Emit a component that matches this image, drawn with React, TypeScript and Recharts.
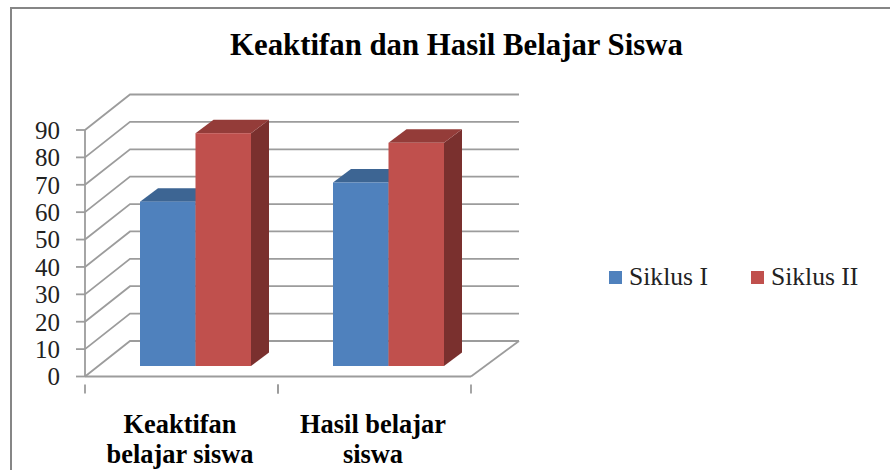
import React from 'react';
import { BarChart, Bar, XAxis, YAxis, CartesianGrid, Legend } from 'recharts';

const categories = ['Keaktifan\nbelajar siswa', 'Hasil belajar\nsiswa'];
const siklusI = [60, 67];
const siklusII = [85, 81.5];
const yTicks = [0, 10, 20, 30, 40, 50, 60, 70, 80, 90];

const chartData = categories.map((name, i) => ({
    name,
    siklusI: siklusI[i],
    siklusII: siklusII[i],
}));

const FONT = '"Liberation Serif", serif';
const GRID = '#9c9c9c';

// fake 3D: how far the back wall and the bar depth sit from the front plane
const WALL_DX = 45;
const WALL_DY = -35.5;
const BAR_SHIFT_X = 14;
const BAR_SHIFT_Y = -10.5;
const BAR_DX = 18;
const BAR_DY = -13.5;

function Bar3D({ x, y, width, height, fill, topFill, sideFill }: any) {
    const left = x + BAR_SHIFT_X;
    const right = left + width;
    const top = y + BAR_SHIFT_Y;
    const bottom = top + height;
    return (
        <g>
            <polygon
                points={`${right},${top} ${right + BAR_DX},${top + BAR_DY} ${right + BAR_DX},${bottom + BAR_DY} ${right},${bottom}`}
                fill={sideFill}
            />
            <polygon
                points={`${left},${top} ${left + BAR_DX},${top + BAR_DY} ${right + BAR_DX},${top + BAR_DY} ${right},${top}`}
                fill={topFill}
            />
            <rect x={left} y={top} width={width} height={height} fill={fill} />
        </g>
    );
}

function WallLine({ x1, y1, x2, index }: any) {
    const backY = y1 + WALL_DY;
    const path = `M${x1},${y1} L${x1 + WALL_DX},${backY} L${x2 + 48},${backY}`;
    return (
        <g>
            <path d={path} fill="none" stroke={GRID} strokeWidth={1.8} />
            {index === 0 ? (
                <line x1={x2} y1={y1} x2={x2 + 48} y2={backY} stroke={GRID} strokeWidth={1.8} />
            ) : null}
        </g>
    );
}

function CategoryTick({ x, y, payload, width, visibleTicksCount }: any) {
    const half = (width || 386) / (2 * (visibleTicksCount || categories.length));
    const lines = String(payload.value).split('\n');
    return (
        <g>
            <line x1={x - half} y1={y} x2={x - half} y2={y + 9} stroke={GRID} strokeWidth={1.8} />
            <line x1={x + half} y1={y} x2={x + half} y2={y + 9} stroke={GRID} strokeWidth={1.8} />
            {lines.map((line, i) => (
                <text
                    key={line}
                    x={x - 1.5}
                    y={y + 48 + i * 30}
                    textAnchor="middle"
                    fontFamily={FONT}
                    fontWeight="bold"
                    fontSize={26.4}
                    fill="#000"
                >
                    {line}
                </text>
            ))}
        </g>
    );
}

function LegendBox({ payload }: any) {
    return (
        <div style={{ display: 'flex', fontFamily: FONT, fontSize: 25.6, color: '#222', lineHeight: '30px' }}>
            {(payload || []).map((item: any, i: number) => (
                <div key={item.value} style={{ display: 'flex', alignItems: 'center', marginRight: i === 0 ? 43 : 0 }}>
                    <span style={{ width: 13, height: 13, background: item.color, marginRight: 7 }} />
                    <span>{item.value}</span>
                </div>
            ))}
        </div>
    );
}

export default function App() {
    return (
        <div style={{ position: 'absolute', left: 0, top: 0, width: 890, height: 470, background: '#fff', overflow: 'hidden' }}>
            <div
                style={{
                    position: 'absolute',
                    left: 10,
                    top: 7,
                    width: 890,
                    height: 461,
                    borderTop: '2px solid #868686',
                    borderLeft: '2px solid #868686',
                }}
            />
            <BarChart
                width={890}
                height={470}
                data={chartData}
                margin={{ top: 130, right: 419, bottom: 0, left: 0 }}
                barSize={55.5}
                barGap={0}
                style={{ position: 'absolute', left: 0, top: 0 }}
            >
                <text x={456.5} y={55} textAnchor="middle" fontFamily={FONT} fontWeight="bold" fontSize={30.8} fill="#000">
                    Keaktifan dan Hasil Belajar Siswa
                </text>
                <CartesianGrid vertical={false} horizontal={<WallLine />} />
                <XAxis
                    dataKey="name"
                    height={93.5}
                    interval={0}
                    tick={<CategoryTick />}
                    tickLine={false}
                    axisLine={{ stroke: GRID, strokeWidth: 1.8 }}
                />
                <YAxis
                    width={85}
                    domain={[0, 90]}
                    ticks={yTicks}
                    interval={0}
                    tickSize={9}
                    tickMargin={16}
                    tick={{ fontFamily: FONT, fontSize: 25, fill: '#222' }}
                    tickLine={{ stroke: GRID, strokeWidth: 1.8 }}
                    axisLine={{ stroke: GRID, strokeWidth: 1.8 }}
                />
                <Legend
                    layout="horizontal"
                    verticalAlign="middle"
                    align="center"
                    wrapperStyle={{ left: 609, top: 262, width: 280 }}
                    content={<LegendBox />}
                />
                <Bar
                    dataKey="siklusI"
                    name="Siklus I"
                    fill="#4F81BD"
                    isAnimationActive={false}
                    shape={<Bar3D topFill="#3D6593" sideFill="#2F4F75" />}
                />
                <Bar
                    dataKey="siklusII"
                    name="Siklus II"
                    fill="#C0504D"
                    isAnimationActive={false}
                    shape={<Bar3D topFill="#943C39" sideFill="#7A302E" />}
                />
            </BarChart>
        </div>
    );
}
